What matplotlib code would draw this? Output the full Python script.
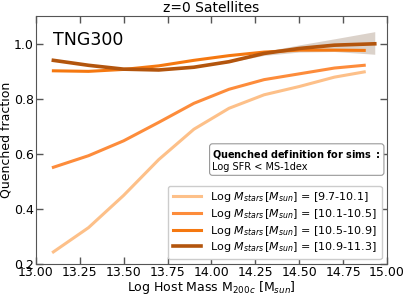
import numpy as np
import matplotlib
matplotlib.use("Agg")
import matplotlib.pyplot as plt

# host mass bin centres (log M200c)
x_main = [13.1, 13.3, 13.5, 13.7, 13.9, 14.1, 14.3, 14.5, 14.7, 14.87]
x_high = [13.1, 13.3, 13.5, 13.7, 13.9, 14.1, 14.3, 14.5, 14.7, 14.93]

fq_97_101 = [0.245, 0.333, 0.45, 0.58, 0.69, 0.766, 0.815, 0.845, 0.879, 0.898]
fq_101_105 = [0.552, 0.594, 0.648, 0.715, 0.784, 0.835, 0.870, 0.891, 0.912, 0.922]
fq_105_109 = [0.902, 0.900, 0.907, 0.920, 0.940, 0.957, 0.970, 0.977, 0.977, 0.976]
fq_109_113 = [0.940, 0.922, 0.908, 0.905, 0.915, 0.935, 0.965, 0.983, 0.995, 1.000]
# error band on the most massive bin
band_lo = [0.940, 0.922, 0.908, 0.905, 0.915, 0.933, 0.958, 0.970, 0.972, 0.962]
band_hi = [0.940, 0.922, 0.908, 0.905, 0.915, 0.937, 0.972, 0.996, 1.018, 1.044]

labels = ["[9.7-10.1]", "[10.1-10.5]", "[10.5-10.9]", "[10.9-11.3]"]
colors = ["#fdc089", "#fd8c3b", "#f57810", "#b3550d"]

fig, ax = plt.subplots(figsize=(4.07, 2.95), dpi=100)
fig.subplots_adjust(left=0.088, right=0.951, top=0.945, bottom=0.104)

series = [(x_main, fq_97_101), (x_main, fq_101_105), (x_main, fq_105_109), (x_high, fq_109_113)]
for (xs, ys), lab, c in zip(series, labels, colors):
    lw = 2.6 if c == colors[3] else 2.2
    ax.plot(xs, ys, color=c, lw=lw, label=r"Log $M_{stars}\,[M_{sun}]$ = " + lab)
ax.fill_between(x_high, band_lo, band_hi, color="#8a6a50", alpha=0.3, lw=0)

ax.set_xlim(13.0, 15.0)
ax.set_ylim(0.2, 1.1)
ax.set_xticks(np.arange(13.0, 15.01, 0.25))
ax.set_yticks([0.2, 0.4, 0.6, 0.8, 1.0])
ax.tick_params(direction="in", top=True, right=True, length=5, width=1, colors="#555555",
               labelcolor="black", labelsize=9, pad=1.5)
for s in ax.spines.values():
    s.set_color("#555555")

ax.set_title("z=0 Satellites", fontsize=10, pad=3)
ax.set_ylabel("Quenched fraction", fontsize=9, labelpad=1)
ax.set_xlabel(r"Log Host Mass M$_{200c}$ [M$_{sun}$]", fontsize=9, labelpad=-0.5)

ax.text(0.05, 0.94, "TNG300", transform=ax.transAxes, fontsize=12.5, va="top", ha="left")
ax.text(0.503, 0.468, r"$\bf{Quenched\ definition\ for\ sims\ :}$" + "\nLog SFR < MS-1dex",
        transform=ax.transAxes, fontsize=7, va="top", ha="left", linespacing=1.15,
        bbox=dict(boxstyle="round,pad=0.3", fc="white", ec="#999999", lw=0.8))

ax.legend(loc="lower right", fontsize=8, handlelength=2.6, labelspacing=0.25,
          borderpad=0.4, framealpha=1, edgecolor="#cccccc")

fig.savefig("out.png", dpi=100)
